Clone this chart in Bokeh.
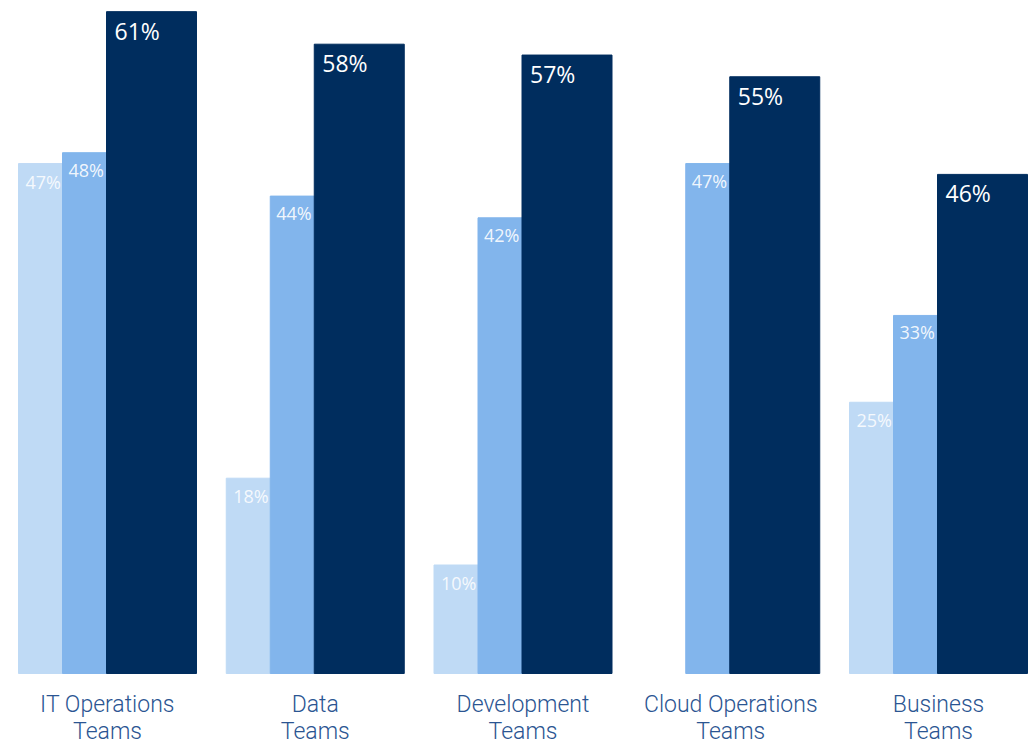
from bokeh.plotting import figure
from bokeh.models import Range1d, ColumnDataSource
from bokeh.core.properties import value
from bokeh.embed import file_html
from bokeh.resources import INLINE

categories_line1 = ["IT Operations", "Data", "Development", "Cloud Operations", "Business"]
categories_line2 = ["Teams", "Teams", "Teams", "Teams", "Teams"]
series_light = [47, 18, 10, None, 25]
series_medium = [48, 44, 42, 47, 33]
series_dark = [61, 58, 57, 55, 46]

LIGHT = "#BFDAF5"
MEDIUM = "#82B5EC"
DARK = "#002D5E"
CAT = "#2B5592"

PX = 207.75  # pixels per group unit
PY = 10.85   # pixels per percent
x0 = -18 / PX
p = figure(width=1030, height=744, output_backend="svg", toolbar_location=None,
           x_range=Range1d(x0, x0 + 1030 / PX), y_range=Range1d(-71 / PY, 673 / PY),
           min_border=0, outline_line_color=None)
p.axis.visible = False
p.grid.visible = False
p.background_fill_color = "white"
p.border_fill_color = "white"

idx = list(range(len(categories_line1)))

def add_series(vals, off, width, color, lab_off, lab_size, lab_dy, alpha):
    xs = [i + off for i, v in enumerate(vals) if v is not None]
    ys = [v for v in vals if v is not None]
    src = ColumnDataSource(dict(x=xs, top=ys,
                                lx=[x - width / 2 + lab_off / PX for x in xs],
                                ly=[y - lab_dy / PY for y in ys],
                                txt=[f"{v}%" for v in ys]))
    p.vbar(x="x", top="top", bottom=0, width=width, color=color, source=src)
    p.text(x="lx", y="ly", text="txt", source=src, text_color="white",
           text_alpha=alpha, text_font=value("Open Sans"), text_font_size=lab_size,
           text_baseline="middle", text_align="left")

add_series(series_light, 22 / PX, 44 / PX, LIGHT, 7, "18px", 18, 0.85)
add_series(series_medium, 66 / PX, 44 / PX, MEDIUM, 6, "18px", 17, 0.9)
add_series(series_dark, 133 / PX, 90 / PX, DARK, 8, "23px", 19, 1.0)

centers = [i + 89 / PX for i in idx]
p.text(x=centers, y=[-31 / PY] * 5, text=categories_line1, text_color=CAT,
       text_font=value("Roboto Light"), text_font_size="23px",
       text_align="center", text_baseline="middle")
p.text(x=centers, y=[-58 / PY] * 5, text=categories_line2, text_color=CAT,
       text_font=value("Roboto Light"), text_font_size="23px",
       text_align="center", text_baseline="middle")

open("out.html", "w").write(file_html(p, INLINE))
